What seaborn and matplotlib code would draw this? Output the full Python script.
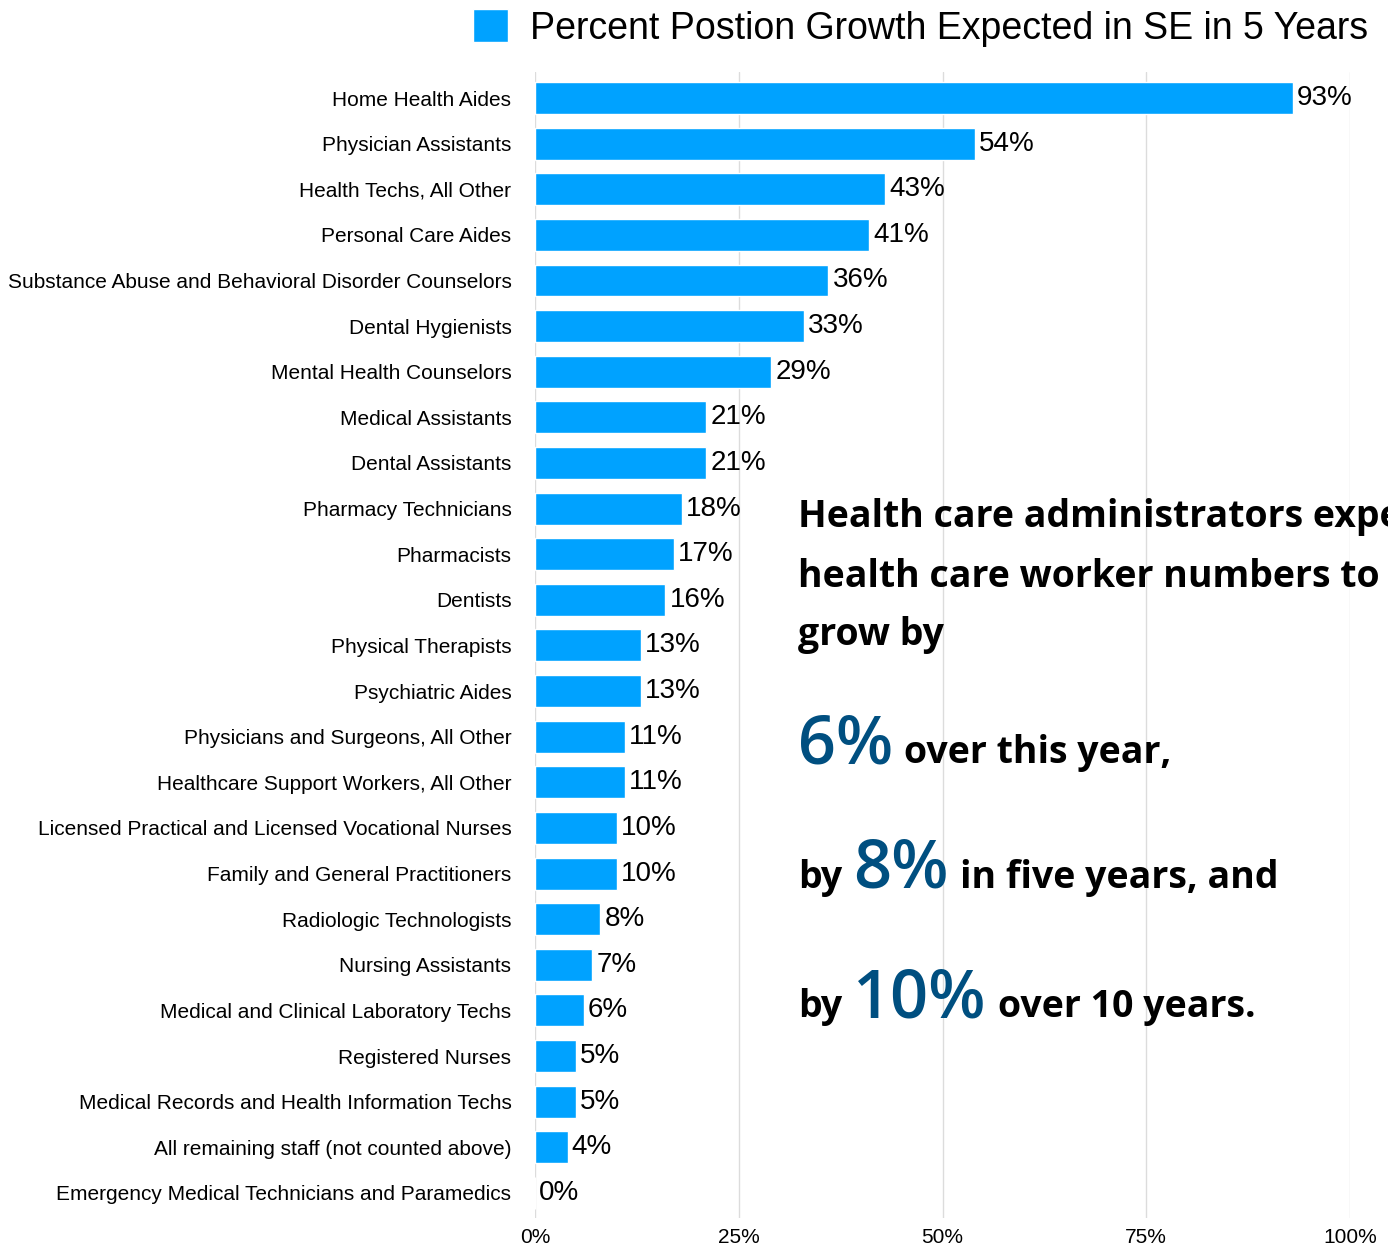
import pandas as pd
import seaborn as sns
import matplotlib.pyplot as plt

# datos
occupations = [
    "Home Health Aides", "Physician Assistants", "Health Techs, All Other",
    "Personal Care Aides", "Substance Abuse and Behavioral Disorder Counselors",
    "Dental Hygienists", "Mental Health Counselors", "Medical Assistants",
    "Dental Assistants", "Pharmacy Technicians", "Pharmacists", "Dentists",
    "Physical Therapists", "Psychiatric Aides", "Physicians and Surgeons, All Other",
    "Healthcare Support Workers, All Other",
    "Licensed Practical and Licensed Vocational Nurses",
    "Family and General Practitioners", "Radiologic Technologists",
    "Nursing Assistants", "Medical and Clinical Laboratory Techs",
    "Registered Nurses", "Medical Records and Health Information Techs",
    "All remaining staff (not counted above)",
    "Emergency Medical Technicians and Paramedics",
]
growth_pct = [93, 54, 43, 41, 36, 33, 29, 21, 21, 18, 17, 16, 13, 13, 11, 11,
              10, 10, 8, 7, 6, 5, 5, 4, 0]
tick_values = [0, 25, 50, 75, 100]
tick_labels = ["0%", "25%", "50%", "75%", "100%"]
series_name = "Percent Postion Growth Expected in SE in 5 Years"

df = pd.DataFrame({"occupation": occupations, "growth": growth_pct})

W, H = 1388, 1248
BAR = "#00A2FF"
DARK = "#004F80"

sns.set_style("white")
plt.rcParams["font.family"] = ["Liberation Sans", "DejaVu Sans"]
plt.rcParams["text.color"] = "black"
plt.rcParams["xtick.color"] = "black"
plt.rcParams["ytick.color"] = "black"

fig = plt.figure(figsize=(W / 100, H / 100), dpi=100)
ax = fig.add_axes([535 / W, 1 - 1218 / H, (1350 - 535) / W, (1218 - 72) / H])

sns.barplot(data=df, x="growth", y="occupation", color=BAR, width=0.7,
            saturation=1, label=series_name, ax=ax, zorder=2)

ax.set_xlim(0, 100)
ax.set_ylim(24.55, -0.57)
ax.set_xticks(tick_values)
ax.set_xticklabels(tick_labels, fontsize=15)
ax.tick_params(axis="y", labelsize=15, pad=17, length=0)
ax.tick_params(axis="x", pad=7, length=0)
ax.set_xlabel("")
ax.set_ylabel("")
ax.grid(axis="x", color="#dcdcdc", linewidth=1, zorder=0)
ax.set_axisbelow(True)
sns.despine(ax=ax, left=True, bottom=True)

# etiquetas de valor
for c in ax.containers:
    ax.bar_label(c, fmt="{:.0f}%", padding=3, fontsize=20, color="black")

# leyenda arriba a la derecha
ax.legend(loc="center right", bbox_to_anchor=(1368 / W, 1 - 28 / H),
          bbox_transform=fig.transFigure, frameon=False,
          handlelength=0.95, handleheight=0.95, handletextpad=0.58,
          borderpad=0, borderaxespad=0, prop={"size": 27})

# texto de anotacion (se corta en el borde derecho, igual que el original)
renderer = fig.canvas.get_renderer()


def draw_line(parts, x_px, y_px, gap=11):
    x = x_px
    for txt, size, color, weight in parts:
        t = fig.text(x / W, 1 - y_px / H, txt, fontsize=size, color=color,
                     fontweight=weight, family=["Open Sans", "DejaVu Sans"],
                     va="baseline", ha="left", zorder=5)
        bb = t.get_window_extent(renderer)
        x = bb.x1 + gap


draw_line([("Health care administrators expect", 27, "black", "bold")], 798, 527)
draw_line([("health care worker numbers to", 27, "black", "bold")], 798, 587)
draw_line([("grow by", 27, "black", "bold")], 798, 645)
draw_line([("6%", 48, DARK, 600), ("over this year,", 27, "black", "bold")],
          798, 763)
draw_line([("by", 27, "black", "bold"), ("8%", 48, DARK, 600),
           ("in five years, and", 27, "black", "bold")], 798, 888)
draw_line([("by", 27, "black", "bold"), ("10%", 48, DARK, 600),
           ("over 10 years.", 27, "black", "bold")], 798, 1017)

fig.savefig("out.png", dpi=100)
